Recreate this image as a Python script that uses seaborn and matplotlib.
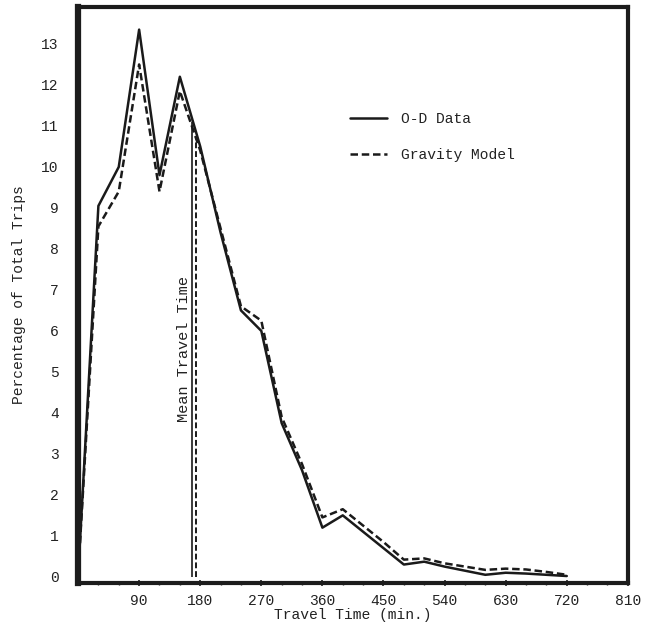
import numpy as np
import pandas as pd
import seaborn as sns
import matplotlib.pyplot as plt

sns.set_style("ticks")
plt.rcParams['font.family'] = ['Liberation Mono', 'DejaVu Sans Mono']

# travel time (min.) and percentage of total trips
minutes = [0, 30, 60, 90, 120, 150, 180, 210, 240, 270, 300, 330, 360, 390,
           420, 450, 480, 510, 540, 570, 600, 630, 660, 690, 720]
od_data = [0.0, 9.05, 10.0, 13.35, 9.8, 12.2, 10.5, 8.4, 6.5, 6.0, 3.75, 2.6,
           1.2, 1.5, 1.1, 0.7, 0.3, 0.37, 0.25, 0.15, 0.05, 0.1, 0.08, 0.05, 0.02]
gravity = [0.0, 8.55, 9.4, 12.5, 9.4, 11.85, 10.4, 8.5, 6.6, 6.25, 3.9, 2.75,
           1.45, 1.65, 1.25, 0.85, 0.42, 0.45, 0.33, 0.25, 0.17, 0.2, 0.18, 0.12, 0.05]

# mean travel time markers
mean_x = [168, 174]
mean_top = [11.1, 10.7]

df = pd.DataFrame({'t': minutes, 'od': od_data, 'grav': gravity})

fig = plt.figure(figsize=(6.53, 6.26), dpi=100)
ax = fig.add_axes([0.1195, 0.0687, 0.842, 0.92])

sns.lineplot(data=df, x='t', y='od', ax=ax, color='#1a1a1a', lw=1.8, label='O-D Data')
sns.lineplot(data=df, x='t', y='grav', ax=ax, color='#1a1a1a', lw=1.8,
             linestyle=(0, (3, 1.5)), label='Gravity Model')

ax.vlines(mean_x[0], 0, mean_top[0], color='#1a1a1a', lw=1.2)
ax.vlines(mean_x[1], 0, mean_top[1], color='#1a1a1a', lw=1.4, linestyles=(0, (3, 1.5)))
ax.text(156, 5.55, 'Mean Travel Time', rotation=90, ha='center', va='center',
        fontsize=11, color='#222222')

ax.set_xlim(0, 810)
ax.set_ylim(-0.15, 13.9)
ax.set_xticks(np.arange(90, 811, 90))
ax.set_xticks(np.arange(0, 811, 30), minor=True)
ax.set_yticks(np.arange(0, 14, 1))
ax.tick_params(axis='both', labelsize=10.5, colors='#222222', direction='inout', length=4, width=1.2)
ax.tick_params(axis='x', which='minor', direction='inout', length=3, width=1)
ax.tick_params(axis='x', pad=6)
ax.tick_params(axis='y', pad=12)

ax.set_xlabel('Travel Time (min.)', fontsize=10.5, labelpad=0, color='#222222')
ax.set_ylabel('Percentage of Total Trips', fontsize=10.5, labelpad=11, color='#222222')

for s in ax.spines.values():
    s.set_linewidth(3)
    s.set_color('#1c1c1c')
    s.set_visible(True)
ax.spines['left'].set_linewidth(4.5)

leg = ax.legend(loc='upper left', bbox_to_anchor=(0.47, 0.84), frameon=False,
                fontsize=10.5, handlelength=2.6, handletextpad=0.9, labelspacing=1.5)
for t in leg.get_texts():
    t.set_color('#222222')

fig.savefig('out.png', dpi=100)
